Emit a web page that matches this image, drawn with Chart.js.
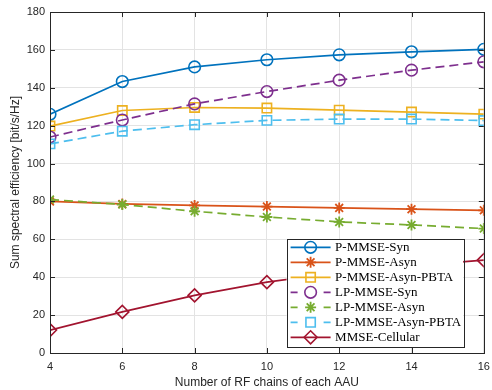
<!DOCTYPE html>
<html>
<head>
<meta charset="utf-8">
<script src="https://cdn.jsdelivr.net/npm/chart.js@4"></script>
<style>
  html, body { margin: 0; padding: 0; background: #fff; }
  #wrap { width: 492px; height: 390px; }
</style>
</head>
<body>
<div id="wrap"><canvas id="c" width="492" height="390"></canvas></div>
<script>
const rfChains = [4, 6, 8, 10, 12, 14, 16];
const seriesNames = ['P-MMSE-Syn', 'P-MMSE-Asyn', 'P-MMSE-Asyn-PBTA', 'LP-MMSE-Syn', 'LP-MMSE-Asyn', 'LP-MMSE-Asyn-PBTA', 'MMSE-Cellular'];
const pMmseSyn       = [126.0, 143.3, 151.0, 154.8, 157.4, 159.0, 160.3];
const pMmseAsyn      = [80.0, 78.7, 77.9, 77.3, 76.6, 75.9, 75.3];
const pMmseAsynPbta  = [119.8, 128.0, 129.6, 129.3, 128.2, 127.2, 126.1];
const lpMmseSyn      = [114.0, 123.0, 131.5, 138.0, 144.0, 149.3, 153.7];
const lpMmseAsyn     = [81.0, 78.4, 74.8, 71.8, 69.2, 67.6, 65.7];
const lpMmseAsynPbta = [110.4, 117.1, 120.5, 122.8, 123.5, 123.5, 122.7];
const mmseCellular   = [12.1, 21.7, 30.4, 37.4, 42.5, 46.0, 49.0];
const xTicks = [4, 6, 8, 10, 12, 14, 16];
const yTicks = [0, 20, 40, 60, 80, 100, 120, 140, 160, 180];
const xTitle = 'Number of RF chains of each AAU';
const yTitle = 'Sum spectral efficiency [bit/s/Hz]';

const values = [pMmseSyn, pMmseAsyn, pMmseAsynPbta, lpMmseSyn, lpMmseAsyn, lpMmseAsynPbta, mmseCellular];
const colors = ['#0072BD', '#D95319', '#EDB120', '#7E2F8E', '#77AC30', '#4DBEEE', '#A2142F'];
const styles = ['circle', 'star', 'rect', 'circle', 'star', 'rect', 'rectRot'];
const radii  = [5.8, 5.5, 6.6, 5.8, 5.5, 6.6, 6.5];
const dashed = [false, false, false, true, true, true, false];

const datasets = seriesNames.map((name, i) => ({
  label: name,
  data: rfChains.map((x, j) => ({ x: x, y: values[i][j] })),
  borderColor: colors[i],
  backgroundColor: colors[i],
  borderWidth: 1.7,
  borderDash: dashed[i] ? [9, 5] : [],
  pointStyle: styles[i],
  pointRadius: radii[i],
  pointBorderWidth: styles[i] === 'star' ? 1.8 : 1.6,
  pointBackgroundColor: 'rgba(0,0,0,0)',
  pointBorderColor: colors[i],
  tension: 0,
  fill: false,
  order: 10 - i
}));

const AX = '#262626';

const framePlugin = {
  id: 'frame',
  afterDatasetsDraw(chart) {
    const ctx = chart.ctx;
    const a = chart.chartArea;
    const xs = chart.scales.x, ys = chart.scales.y;
    ctx.save();
    ctx.strokeStyle = AX;
    ctx.lineWidth = 1;
    const tl = 5;
    xTicks.forEach(v => {
      const px = Math.round(xs.getPixelForValue(v)) + 0.5;
      ctx.beginPath();
      ctx.moveTo(px, a.bottom); ctx.lineTo(px, a.bottom - tl);
      ctx.moveTo(px, a.top); ctx.lineTo(px, a.top + tl);
      ctx.stroke();
    });
    yTicks.forEach(v => {
      const py = Math.round(ys.getPixelForValue(v)) + 0.5;
      ctx.beginPath();
      ctx.moveTo(a.left, py); ctx.lineTo(a.left + tl, py);
      ctx.moveTo(a.right, py); ctx.lineTo(a.right - tl, py);
      ctx.stroke();
    });
    ctx.strokeRect(Math.round(a.left) + 0.5, Math.round(a.top) + 0.5,
                   Math.round(a.right - a.left), Math.round(a.bottom - a.top));

    // legend
    const lw = 176.5, lh = 108;
    const lx = a.right - 20.7 - lw;
    const ly = a.bottom - 5.7 - lh;
    ctx.fillStyle = '#ffffff';
    ctx.fillRect(lx, ly, lw, lh);
    ctx.strokeStyle = AX;
    ctx.lineWidth = 1;
    ctx.strokeRect(Math.round(lx) + 0.5, Math.round(ly) + 0.5, Math.round(lw), Math.round(lh));
    ctx.font = '13px "Liberation Serif", "DejaVu Serif", serif';
    ctx.textBaseline = 'middle';
    ctx.textAlign = 'left';
    chart.data.datasets.forEach((ds, i) => {
      const cy = ly + 8 + i * 15;
      const x0 = lx + 4, x1 = lx + 44, xm = (x0 + x1) / 2;
      ctx.save();
      ctx.strokeStyle = ds.borderColor;
      ctx.lineWidth = ds.borderWidth;
      ctx.beginPath();
      if (ds.borderDash.length) {
        ctx.moveTo(x0, cy); ctx.lineTo(x0 + 7, cy);
        ctx.moveTo(x1 - 7, cy); ctx.lineTo(x1, cy);
      } else {
        ctx.moveTo(x0, cy); ctx.lineTo(x1, cy);
      }
      ctx.stroke();
      ctx.lineWidth = ds.pointBorderWidth;
      ctx.fillStyle = 'rgba(0,0,0,0)';
      Chart.helpers.drawPoint(ctx, {
        pointStyle: ds.pointStyle,
        radius: ds.pointRadius,
        rotation: 0,
        borderWidth: ds.pointBorderWidth
      }, xm, cy);
      ctx.restore();
      ctx.fillStyle = '#000';
      ctx.fillText(ds.label, lx + 48.5, cy + 0.5);
    });
    ctx.restore();
  }
};

new Chart(document.getElementById('c'), {
  type: 'line',
  data: { datasets: datasets },
  options: {
    responsive: false,
    animation: false,
    devicePixelRatio: 1,
    layout: { padding: { top: 12, right: 8, left: 0, bottom: 0 } },
    plugins: { legend: { display: false }, tooltip: { enabled: false } },
    scales: {
      x: {
        type: 'linear',
        min: 4, max: 16,
        afterFit(s) { s.height = 37; s.paddingLeft = 0; s.paddingRight = 0; },
        afterBuildTicks(s) { s.ticks = xTicks.map(v => ({ value: v })); },
        grid: { color: '#e3e3e3', lineWidth: 1, drawTicks: false },
        border: { display: false },
        ticks: { color: AX, padding: 7, font: { family: '"Liberation Sans", Arial, sans-serif', size: 11 }, maxRotation: 0 },
        title: { display: true, text: xTitle, color: AX, padding: { top: 0, bottom: 0 }, font: { family: '"Liberation Sans", Arial, sans-serif', size: 12 } }
      },
      y: {
        min: 0, max: 180,
        afterFit(s) { s.width = 50; s.paddingTop = 0; s.paddingBottom = 0; },
        afterBuildTicks(s) { s.ticks = yTicks.map(v => ({ value: v })); },
        grid: { color: '#e3e3e3', lineWidth: 1, drawTicks: false },
        border: { display: false },
        ticks: { color: AX, padding: 5, font: { family: '"Liberation Sans", Arial, sans-serif', size: 11 } },
        title: { display: true, text: yTitle, color: AX, padding: { top: 8, bottom: 0 }, font: { family: '"Liberation Sans", Arial, sans-serif', size: 12 } }
      }
    }
  },
  plugins: [framePlugin]
});
</script>
</body>
</html>
